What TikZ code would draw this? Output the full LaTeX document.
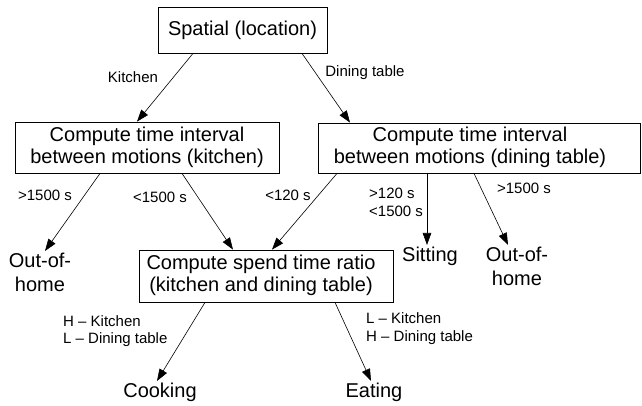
\documentclass[tikz,border=0pt]{standalone}
\usepackage{fontspec}
\setmainfont{Liberation Sans}
\usetikzlibrary{arrows.meta}

\begin{document}
\begin{tikzpicture}[x=1pt, y=-1pt,
    box/.style={draw, line width=0.8pt, inner sep=0pt, font=\fontsize{20}{21.5}\selectfont},
    leaf/.style={inner sep=1.5pt, align=center, font=\fontsize{20}{24}\selectfont},
    cond/.style={inner sep=0pt, align=left, font=\fontsize{15}{17.5}\selectfont},
    flow/.style={line width=0.6pt, -{Triangle[length=12pt, width=8.5pt]}}]

    \useasboundingbox (0,0) rectangle (642,405);

    % boxes
    \node[box, minimum width=169pt, minimum height=46pt] (spatial) at (242.5,30) {Spatial (location)};
    \node[box, align=center, minimum width=264pt, minimum height=51pt] (kit) at (147,147.5)
        {Compute time interval\\between motions (kitchen)};
    \node[box, minimum width=322pt, minimum height=50pt] (din) at (479,148)
        {\begin{tabular}{@{}c@{}}Compute time interval\\between motions (dining table)\end{tabular}\hspace*{18pt}};
    \node[box, minimum width=254pt, minimum height=52pt] (ratio) at (266,276)
        {\begin{tabular}{@{}c@{}}Compute spend time ratio\\(kitchen and dining table)\end{tabular}\hspace*{10pt}};

    % outcomes
    \node[leaf] (outk) at (40,272) {Out-of-\\home};
    \node[leaf] (sit) at (430,256) {Sitting};
    \node[leaf] (outd) at (517,266) {Out-of-\\home};
    \node[leaf] (cook) at (160,392) {Cooking};
    \node[leaf] (eat) at (374,392) {Eating};

    % conditions
    \node[cond] (lkit) at (133,77) {Kitchen};
    \node[cond] (ldin) at (365,73) {Dining table};
    \node[cond] (lklong) at (45,195) {>1500 s};
    \node[cond] (lkshort) at (160,197) {<1500 s};
    \node[cond] (ldshort) at (288,195) {<120 s};
    \node[cond, anchor=west] (ldmid) at (369,202.5) {>120 s\\<1500 s};
    \node[cond] (ldlong) at (524,188) {>1500 s};
    \node[cond, anchor=west] (lhigh) at (63,331) {H – Kitchen\\L – Dining table};
    \node[cond, anchor=west] (llow) at (366,328.5) {L – Kitchen\\H – Dining table};

    \draw[flow] ([xshift=-49.5pt]spatial.south) -- ([xshift=-10pt]kit.north);
    \draw[flow] ([xshift=59.5pt]spatial.south) -- ([xshift=-129pt]din.north);

    \draw[flow] ([xshift=-47pt]kit.south) -- ([xshift=5pt]outk.north);
    \draw[flow] ([xshift=35pt]kit.south) -- ([xshift=-33pt]ratio.north);

    \draw[flow] ([xshift=-142pt]din.south) -- ([xshift=6pt]ratio.north);
    \draw[flow] ([xshift=-52pt]din.south) -- ([xshift=-3pt]sit.north);
    \draw[flow] ([xshift=-5pt]din.south) -- ([xshift=-9pt]outd.north);

    \draw[flow] ([xshift=-61pt]ratio.south) -- ([xshift=-3pt]cook.north);
    \draw[flow] ([xshift=69pt]ratio.south) -- ([xshift=-3pt]eat.north);

\end{tikzpicture}
\end{document}
